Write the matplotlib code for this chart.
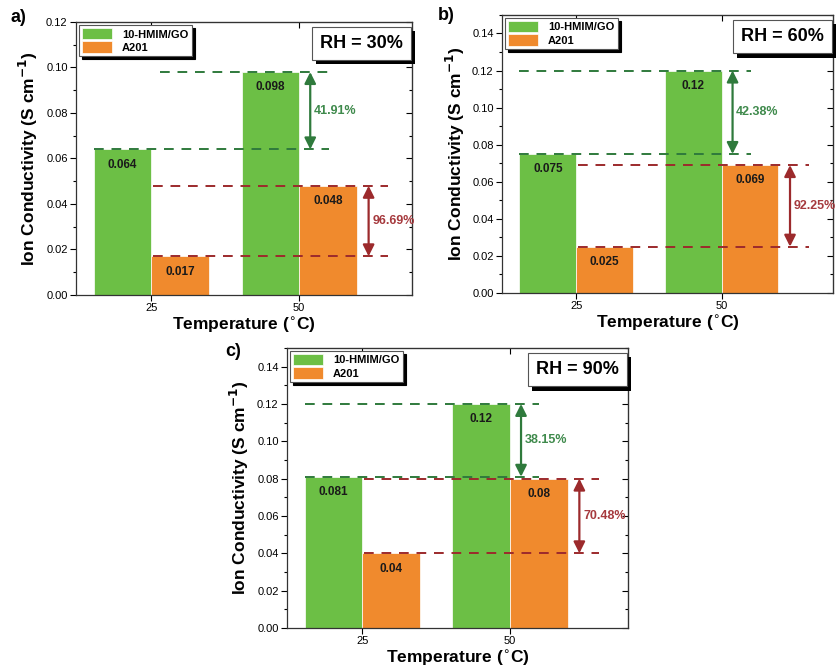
import matplotlib.pyplot as plt
import matplotlib.patheffects as pe
from matplotlib.ticker import MultipleLocator, FormatStrFormatter

plt.rcParams['font.family'] = ['Liberation Sans', 'DejaVu Sans']

# --------------------------------------------------
# Data
# --------------------------------------------------

temps = ['25', '50']
series_names = ['10-HMIM/GO', 'A201']

hmim_a = [0.064, 0.098]
a201_a = [0.017, 0.048]
hmim_lbl_a = ['0.064', '0.098']
a201_lbl_a = ['0.017', '0.048']

hmim_b = [0.075, 0.12]
a201_b = [0.025, 0.069]
hmim_lbl_b = ['0.075', '0.12']
a201_lbl_b = ['0.025', '0.069']

hmim_c = [0.081, 0.12]
a201_c = [0.04, 0.08]
hmim_lbl_c = ['0.081', '0.12']
a201_lbl_c = ['0.04', '0.08']

pct_green = ['41.91%', '42.38%', '38.15%']
pct_red = ['96.69%', '92.25%', '70.48%']
rh_labels = ['RH = 30%', 'RH = 60%', 'RH = 90%']

GREEN = '#6cbf45'
ORANGE = '#f08a2d'
DGREEN = '#2f7a3c'
DRED = '#9c2a2c'

fig = plt.figure(figsize=(8.36, 6.7), dpi=100)

ax_a = fig.add_axes([0.0909, 0.5597, 0.402, 0.4075])
ax_b = fig.add_axes([0.6005, 0.5627, 0.396, 0.415])
ax_c = fig.add_axes([0.3433, 0.0627, 0.408, 0.418])


def draw_panel(ax, hmim, a201, hmim_lbl, a201_lbl, pg, pr, rh, ymax, top_start, xmax):
    w = 0.39
    x = [0, 1]
    ax.bar([i - w for i in x], hmim, w, align='edge', color=GREEN,
           edgecolor='white', linewidth=0.5, label=series_names[0], zorder=2)
    ax.bar(x, a201, w, align='edge', color=ORANGE,
           edgecolor='white', linewidth=0.5, label=series_names[1], zorder=2)

    # value labels inside bars
    for i in x:
        ax.annotate(hmim_lbl[i], (i - w / 2, hmim[i]), xytext=(0, -11),
                    textcoords='offset points', ha='center', va='center',
                    fontsize=8.5, fontweight='bold', color='#1a1a1a', zorder=4)
        ax.annotate(a201_lbl[i], (i + w / 2, a201[i]), xytext=(0, -11),
                    textcoords='offset points', ha='center', va='center',
                    fontsize=8.5, fontweight='bold', color='#1a1a1a', zorder=4)

    dash = dict(linestyles=(0, (5, 4)), linewidth=1.4, zorder=3)
    # green reference lines
    ax.hlines(hmim[0], -w, 1.2, color=DGREEN, **dash)
    ax.hlines(hmim[1], top_start, 1.2, color=DGREEN, **dash)
    # red reference lines
    ax.hlines(a201[1], 0.01, 1.6, color=DRED, **dash)
    ax.hlines(a201[0], 0.01, 1.6, color=DRED, **dash)

    ax.annotate('', xy=(1.075, hmim[1]), xytext=(1.075, hmim[0]),
                arrowprops=dict(arrowstyle='<|-|>', color=DGREEN, lw=1.6,
                                mutation_scale=17, shrinkA=0, shrinkB=0), zorder=4)
    ax.annotate('', xy=(1.47, a201[1]), xytext=(1.47, a201[0]),
                arrowprops=dict(arrowstyle='<|-|>', color=DRED, lw=1.6,
                                mutation_scale=17, shrinkA=0, shrinkB=0), zorder=4)
    ax.text(1.10, (hmim[0] + hmim[1]) / 2, pg, color='#3f8a4c', fontsize=9,
            fontweight='bold', va='center', ha='left', zorder=4)
    ax.text(1.495, (a201[0] + a201[1]) / 2, pr, color='#a63a3e', fontsize=9,
            fontweight='bold', va='center', ha='left', zorder=4)

    ax.set_xlim(-0.51, xmax)
    ax.set_ylim(0, ymax)
    ax.set_xticks(x)
    ax.set_xticklabels(temps)
    ax.yaxis.set_major_locator(MultipleLocator(0.02))
    ax.yaxis.set_minor_locator(MultipleLocator(0.01))
    ax.yaxis.set_major_formatter(FormatStrFormatter('%.2f'))
    ax.tick_params(axis='both', which='major', labelsize=8, length=4,
                   direction='out', width=0.8, pad=2)
    ax.tick_params(axis='y', which='minor', length=2.5, direction='out', width=0.8)

    # inward ticks on right and top spines
    sec_y = ax.secondary_yaxis('right')
    sec_y.yaxis.set_major_locator(MultipleLocator(0.02))
    sec_y.yaxis.set_minor_locator(MultipleLocator(0.01))
    sec_y.tick_params(which='major', direction='in', length=4, labelright=False, width=0.8)
    sec_y.tick_params(which='minor', direction='in', length=2.5, width=0.8)
    sec_x = ax.secondary_xaxis('top')
    sec_x.set_xticks(x)
    sec_x.tick_params(direction='in', length=4, labeltop=False, width=0.8)

    for s in ax.spines.values():
        s.set_linewidth(0.9)
        s.set_color('#333333')

    ax.set_xlabel('Temperature ($^{\\circ}$C)', fontsize=12.5, fontweight='bold', labelpad=1)
    ax.set_ylabel('Ion Conductivity (S cm$^{\\mathbf{-1}}$)', fontsize=12.5,
                  fontweight='bold', labelpad=4)

    leg = ax.legend(loc='upper left', bbox_to_anchor=(0.0, 1.0), borderaxespad=0.25,
                    fancybox=False, edgecolor='#555555', framealpha=1,
                    shadow={'color': 'black', 'alpha': 1, 'ox': 2.5, 'oy': -2.5},
                    prop={'weight': 'bold', 'size': 8}, handlelength=2.7,
                    handleheight=1.2, labelspacing=0.15, borderpad=0.3,
                    handletextpad=0.9)
    leg.get_frame().set_linewidth(0.8)

    t = ax.text(0.972, 0.952, rh, transform=ax.transAxes, ha='right', va='top',
                fontsize=13, fontweight='bold', zorder=6,
                bbox=dict(boxstyle='square,pad=0.45', facecolor='white',
                          edgecolor='#555555', linewidth=0.8))
    t.get_bbox_patch().set_path_effects([
        pe.SimplePatchShadow(offset=(3, -3), shadow_rgbFace='black', alpha=1),
        pe.Normal()])


draw_panel(ax_a, hmim_a, a201_a, hmim_lbl_a, a201_lbl_a,
           pct_green[0], pct_red[0], rh_labels[0], 0.12, 0.06, 1.764)
draw_panel(ax_b, hmim_b, a201_b, hmim_lbl_b, a201_lbl_b,
           pct_green[1], pct_red[1], rh_labels[1], 0.15, -0.39, 1.766)
draw_panel(ax_c, hmim_c, a201_c, hmim_lbl_c, a201_lbl_c,
           pct_green[2], pct_red[2], rh_labels[2], 0.15, -0.39, 1.80)

fig.text(0.012, 1 - 18 / 670, 'a)', fontsize=13, fontweight='bold', va='center')
fig.text(0.524, 1 - 15 / 670, 'b)', fontsize=13, fontweight='bold', va='center')
fig.text(0.270, 1 - 352 / 670, 'c)', fontsize=13, fontweight='bold', va='center')

plt.savefig('out.png', dpi=100)
